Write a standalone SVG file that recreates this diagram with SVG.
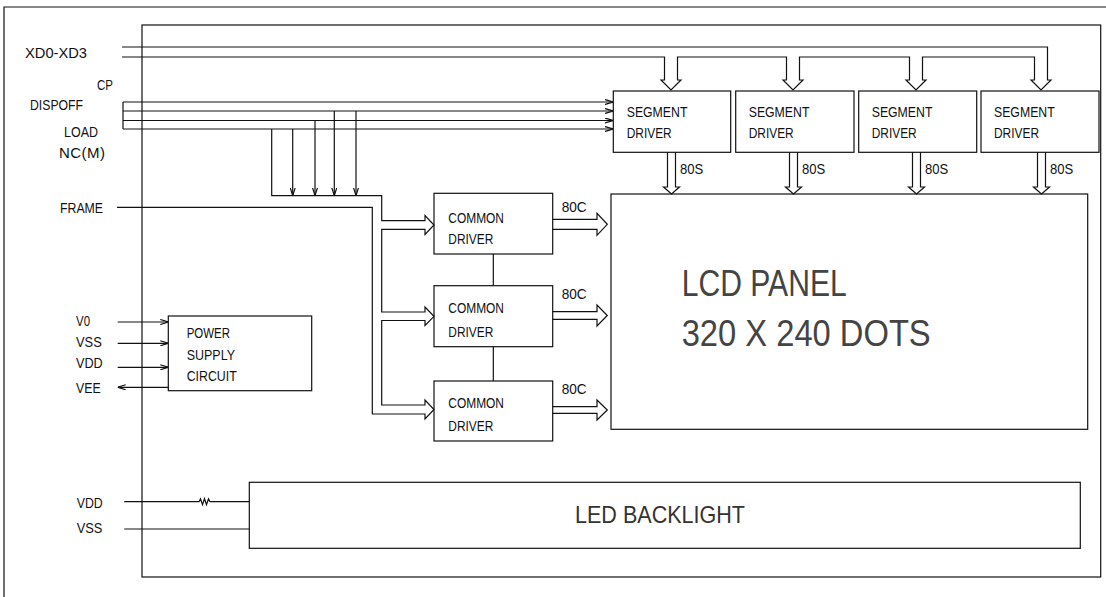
<svg xmlns="http://www.w3.org/2000/svg" width="1106" height="597" viewBox="0 0 1106 597">
<style>
.ln{fill:none;stroke:#111;stroke-width:1.2}
.bx{fill:#fff;stroke:#111;stroke-width:1.2}
.t{font-family:"Liberation Sans",Arial,sans-serif;font-size:15px;fill:#111}
.big{font-family:"Liberation Sans",Arial,sans-serif;font-size:36px;fill:#444}
.mid{font-family:"Liberation Sans",Arial,sans-serif;font-size:24px;fill:#333}
</style>
<defs>
<marker id="a" viewBox="0 0 8 6" refX="8" refY="3" markerWidth="8" markerHeight="6" markerUnits="userSpaceOnUse" orient="auto">
<path d="M0,0.5 L8,3 L0,5.5" fill="none" stroke="#111" stroke-width="1.2"/>
</marker>
</defs>
<rect width="1106" height="597" fill="#fff"/>
<g id="frame">
<path class="ln" d="M4,597 V7 H1106" stroke-width="1.5"/>
<rect class="ln" x="142" y="25" width="958.7" height="552"/>
</g>
<g id="labels">
<text class="t" x="25" y="58" textLength="62" lengthAdjust="spacingAndGlyphs">XD0-XD3</text>
<text class="t" x="97" y="90" textLength="16" lengthAdjust="spacingAndGlyphs">CP</text>
<text class="t" x="30" y="110" textLength="53" lengthAdjust="spacingAndGlyphs">DISPOFF</text>
<text class="t" x="64" y="137" textLength="34" lengthAdjust="spacingAndGlyphs">LOAD</text>
<text class="t" x="59" y="158" textLength="46" lengthAdjust="spacing">NC(M)</text>
<text class="t" x="60" y="213" textLength="43" lengthAdjust="spacingAndGlyphs">FRAME</text>
<text class="t" x="76" y="326" textLength="14" lengthAdjust="spacingAndGlyphs">V0</text>
<text class="t" x="76" y="347.3" textLength="25.7" lengthAdjust="spacingAndGlyphs">VSS</text>
<text class="t" x="76" y="368.3" textLength="26.7" lengthAdjust="spacingAndGlyphs">VDD</text>
<text class="t" x="76" y="392.7" textLength="24.7" lengthAdjust="spacingAndGlyphs">VEE</text>
<text class="t" x="76.7" y="508.3" textLength="26" lengthAdjust="spacingAndGlyphs">VDD</text>
<text class="t" x="76.7" y="533.3" textLength="25.7" lengthAdjust="spacingAndGlyphs">VSS</text>
<text class="t" x="680" y="174" textLength="23.3" lengthAdjust="spacingAndGlyphs">80S</text>
<text class="t" x="802" y="174" textLength="23.3" lengthAdjust="spacingAndGlyphs">80S</text>
<text class="t" x="925" y="174" textLength="23.3" lengthAdjust="spacingAndGlyphs">80S</text>
<text class="t" x="1050" y="174" textLength="23.3" lengthAdjust="spacingAndGlyphs">80S</text>
<text class="t" x="561.7" y="211.7" textLength="25" lengthAdjust="spacingAndGlyphs">80C</text>
<text class="t" x="561.7" y="299.3" textLength="25" lengthAdjust="spacingAndGlyphs">80C</text>
<text class="t" x="561.7" y="394.3" textLength="25" lengthAdjust="spacingAndGlyphs">80C</text>
</g>
<g id="seg1">
<rect class="bx" x="613.3" y="91" width="117.4" height="61.3"/>
<text class="t" x="626.7" y="116.7" textLength="60.7" lengthAdjust="spacingAndGlyphs">SEGMENT</text>
<text class="t" x="626.7" y="138.3" textLength="45" lengthAdjust="spacingAndGlyphs">DRIVER</text>
</g>
<g id="seg2">
<rect class="bx" x="735.7" y="91" width="118.3" height="61.3"/>
<text class="t" x="748.7" y="116.7" textLength="60.7" lengthAdjust="spacingAndGlyphs">SEGMENT</text>
<text class="t" x="748.7" y="138.3" textLength="45" lengthAdjust="spacingAndGlyphs">DRIVER</text>
</g>
<g id="seg3">
<rect class="bx" x="858.7" y="91" width="118" height="61.3"/>
<text class="t" x="871.7" y="116.7" textLength="60.7" lengthAdjust="spacingAndGlyphs">SEGMENT</text>
<text class="t" x="871.7" y="138.3" textLength="45" lengthAdjust="spacingAndGlyphs">DRIVER</text>
</g>
<g id="seg4">
<rect class="bx" x="981" y="91" width="118" height="61.3"/>
<text class="t" x="994" y="116.7" textLength="60.7" lengthAdjust="spacingAndGlyphs">SEGMENT</text>
<text class="t" x="994" y="138.3" textLength="45" lengthAdjust="spacingAndGlyphs">DRIVER</text>
</g>
<g id="com1">
<rect class="bx" x="434" y="193.3" width="118.7" height="60.7"/>
<text class="t" x="448.3" y="222.7" textLength="55.7" lengthAdjust="spacingAndGlyphs">COMMON</text>
<text class="t" x="448.3" y="244" textLength="45" lengthAdjust="spacingAndGlyphs">DRIVER</text>
</g>
<g id="com2">
<rect class="bx" x="434" y="285.7" width="118.7" height="61"/>
<text class="t" x="448.3" y="313.3" textLength="55.7" lengthAdjust="spacingAndGlyphs">COMMON</text>
<text class="t" x="448.3" y="336.7" textLength="45" lengthAdjust="spacingAndGlyphs">DRIVER</text>
</g>
<g id="com3">
<rect class="bx" x="434" y="381" width="118.7" height="60"/>
<text class="t" x="448.3" y="408.3" textLength="55.7" lengthAdjust="spacingAndGlyphs">COMMON</text>
<text class="t" x="448.3" y="430.7" textLength="45" lengthAdjust="spacingAndGlyphs">DRIVER</text>
</g>
<g id="lcd">
<rect class="bx" x="611" y="194" width="476.7" height="235.3"/>
<text class="big" x="681.7" y="296" textLength="165" lengthAdjust="spacingAndGlyphs">LCD PANEL</text>
<text class="big" x="681.7" y="346" textLength="249" lengthAdjust="spacingAndGlyphs">320 X 240 DOTS</text>
</g>
<g id="power">
<rect class="bx" x="168.3" y="316" width="143.4" height="74.7"/>
<text class="t" x="186.7" y="338.3" textLength="43.3" lengthAdjust="spacingAndGlyphs">POWER</text>
<text class="t" x="186.7" y="360" textLength="48.3" lengthAdjust="spacingAndGlyphs">SUPPLY</text>
<text class="t" x="186.7" y="380.7" textLength="50" lengthAdjust="spacingAndGlyphs">CIRCUIT</text>
</g>
<g id="led">
<rect class="bx" x="249.3" y="482.3" width="831" height="66"/>
<text class="mid" x="575" y="522.5" textLength="170" lengthAdjust="spacingAndGlyphs">LED BACKLIGHT</text>
</g>
<g id="connectors">
<path class="ln" d="M122,57 H664.5 V80 H661 L671,90 L681,80 H677.5 V57 H786.5 V80 H783 L793,90 L803,80 H799.5 V57 H909.5 V80 H906 L916,90 L926,80 H922.5 V57 H1034.5 V80 H1031 L1041,90 L1051,80 H1047.5 V47 H122"/>
<path class="ln" d="M667.5,152.3 V187 H663.5 L671.5,194 L679.5,187 H675.5 V152.3"/>
<path class="ln" d="M789.5,152.3 V187 H785.5 L793.5,194 L801.5,187 H797.5 V152.3"/>
<path class="ln" d="M912.5,152.3 V187 H908.5 L916.5,194 L924.5,187 H920.5 V152.3"/>
<path class="ln" d="M1037.5,152.3 V187 H1033.5 L1041.5,194 L1049.5,187 H1045.5 V152.3"/>
<path class="ln" d="M123,102 V129"/>
<path class="ln" d="M123,102 H613" marker-end="url(#a)"/>
<path class="ln" d="M123,111 H613" marker-end="url(#a)"/>
<path class="ln" d="M123,120.5 H613" marker-end="url(#a)"/>
<path class="ln" d="M123,129 H613" marker-end="url(#a)"/>
<path class="ln" d="M292.7,129 V195.7" marker-end="url(#a)"/>
<path class="ln" d="M315,120.5 V195.7" marker-end="url(#a)"/>
<path class="ln" d="M334.3,111 V195.7" marker-end="url(#a)"/>
<path class="ln" d="M356,111 V195.7" marker-end="url(#a)"/>
<path class="ln" d="M271.7,129 V195.7 H381.7 V220.7 H425 V215.5 L434,225 L425,234.5 V229.3 H381.7 V312 H425 V307 L434,316.3 L425,325.5 V320.5 H381.7 V405 H425 V400 L434,409.5 L425,419 V414 H372.3 V207.3 H117"/>
<path class="ln" d="M552.7,219.3 H597 V213.3 L607.3,224.3 L597,235.3 V229.3 H552.7"/>
<path class="ln" d="M552.7,311.7 H597 V305 L607.3,315.5 L597,326 V319.3 H552.7"/>
<path class="ln" d="M552.7,406.7 H597 V400 L607.3,410 L597,420 V413.3 H552.7"/>
<path class="ln" d="M493.3,254 V285.7 M493.3,346.7 V381"/>
<path class="ln" d="M117.7,322 H168.3" marker-end="url(#a)"/>
<path class="ln" d="M117.7,343.3 H168.3" marker-end="url(#a)"/>
<path class="ln" d="M117.7,367.3 H168.3" marker-end="url(#a)"/>
<path class="ln" d="M168.3,387.3 H117.7" marker-end="url(#a)"/>
<path class="ln" d="M124.3,501.7 H199 L200.5,498.7 L202.5,504.7 L204.5,498.7 L206.5,504.7 L208.5,498.7 L210,501.7 H249.3"/>
<path class="ln" d="M124.3,529 H249.3"/>
</g>
</svg>
